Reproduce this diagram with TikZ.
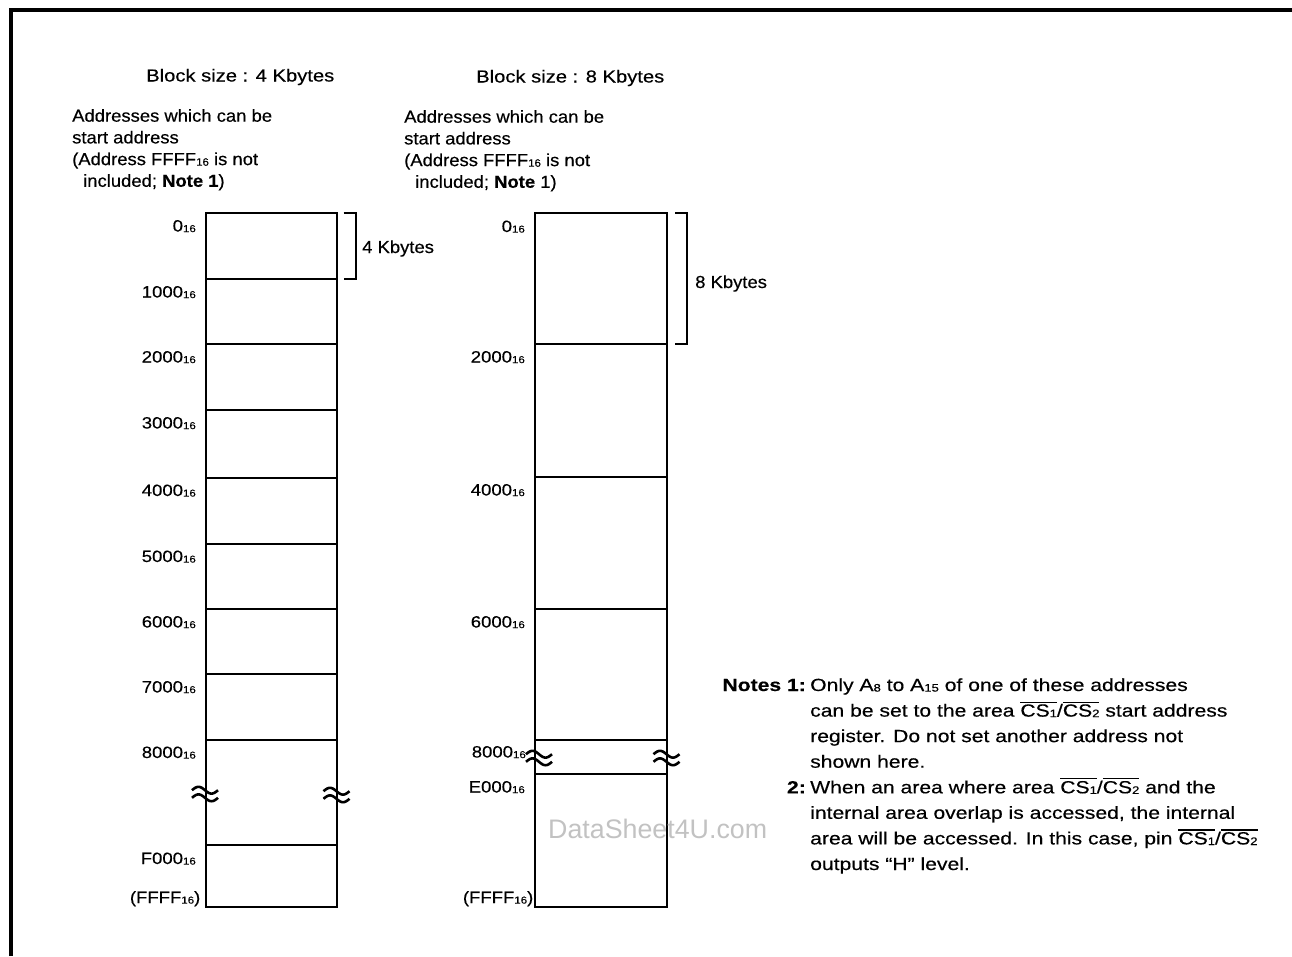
\documentclass[tikz,border=0pt]{standalone}
\usepackage{fontspec}
\usepackage{graphicx}
\setmainfont{Liberation Sans}
\newfontfamily\fbody{Liberation Sans}[FakeStretch=1.06,FakeBold=0.4]
\newfontfamily\ftitle{Liberation Sans}[FakeStretch=1.16,FakeBold=0.4]
\newfontfamily\fnote{Liberation Sans}[FakeStretch=1.2,FakeBold=0.4]
\newfontfamily\flab{Liberation Sans}[FakeStretch=1.13,FakeBold=0.4]
\newcommand\sbs[1]{\raisebox{-0.6pt}{\scalebox{0.62}{#1}}}
\newcommand\ovl[1]{\vbox{\hrule height 1.2pt\kern1.6pt\hbox{#1}}}
\tikzset{
  body/.style={font=\fbody\fontsize{17.4}{20}\selectfont, inner sep=0pt, anchor=base west},
  ttl/.style={font=\ftitle\fontsize{17.4}{20}\selectfont, inner sep=0pt, anchor=base west},
  note/.style={font=\fnote\fontsize{17.6}{20}\selectfont, inner sep=0pt, anchor=base west},
  notelbl/.style={font=\fnote\bfseries\fontsize{17.6}{20}\selectfont, inner sep=0pt, anchor=base east},
  addr/.style={font=\flab\fontsize{16.4}{18}\selectfont, inner sep=0pt, anchor=base east},
  memframe/.style={line width=2.4pt},
  memline/.style={line width=2pt},
  brkline/.style={line width=2.6pt},
  bracketline/.style={line width=2pt},
  wm/.style={font=\fontsize{26.8}{30}\selectfont, text=black!24, inner sep=0pt, anchor=base west},
  brk/.pic={
    \draw[brkline] plot[smooth, domain=-13:13, samples=25] (\x, {-3.8-3.4*sin((\x+13)*360/26)});
    \draw[brkline] plot[smooth, domain=-13:13, samples=25] (\x, {3.8-3.4*sin((\x+13)*360/26)});
  }
}
\begin{document}
\begin{tikzpicture}[x=1pt, y=-1pt]
\useasboundingbox (0,0) rectangle (1292,956);
% outer frame (left and top edges visible)
\draw[line width=3.5pt] (11,956) -- (11,10) -- (1292,10);

% ---------- titles ----------
\node[ttl] (t1) at (146,81.5) {Block size : 4 Kbytes};
\node[ttl] (t2) at (476,82.5) {Block size : 8 Kbytes};

% ---------- left description ----------
\node[body] (la) at (72,121.7) {Addresses which can be};
\node[body] (lb) at (72,143.4) {start address};
\node[body] (lc) at (72,165.1) {(Address FFFF\sbs{16} is not};
\node[body] (ld) at (83,186.8) {included; \textbf{Note 1})};

% ---------- right description ----------
\node[body] (ra) at (404,122.7) {Addresses which can be};
\node[body] (rb) at (404,144.4) {start address};
\node[body] (rc) at (404,166.1) {(Address FFFF\sbs{16} is not};
\node[body] (rd) at (415,187.8) {included; \textbf{Note} 1)};

% ---------- left memory map (4 Kbytes) ----------
\draw[memframe] (206,213) rectangle (337,907);
\foreach \yy in {279,344,410,478,544,609,674,740,845}
  \draw[memline] (206,\yy) -- (337,\yy);
\pic at (205,794) {brk};
\pic at (336.5,795) {brk};
\draw[bracketline] (343.5,213) -- (355.5,213) -- (355.5,279) -- (343.5,279);
\node[body] (k4) at (362,253) {4 Kbytes};

\node[addr] (a0)  at (196,231.5) {0\sbs{16}};
\node[addr] (a1)  at (196,297.5) {1000\sbs{16}};
\node[addr] (a2)  at (196,362.5) {2000\sbs{16}};
\node[addr] (a3)  at (196,428.5) {3000\sbs{16}};
\node[addr] (a4)  at (196,496) {4000\sbs{16}};
\node[addr] (a5)  at (196,562) {5000\sbs{16}};
\node[addr] (a6)  at (196,627.5) {6000\sbs{16}};
\node[addr] (a7)  at (196,692.5) {7000\sbs{16}};
\node[addr] (a8)  at (196,758) {8000\sbs{16}};
\node[addr] (af)  at (196,864) {F000\sbs{16}};
\node[addr] (aff) at (200.5,903) {(FFFF\sbs{16})};

% ---------- right memory map (8 Kbytes) ----------
\draw[memframe] (535,213) rectangle (667,907);
\foreach \yy in {344,477,609,740,774}
  \draw[memline] (535,\yy) -- (667,\yy);
\pic at (539,758) {brk};
\pic at (666.5,758) {brk};
\draw[bracketline] (675,213) -- (687,213) -- (687,344) -- (675,344);
\node[body] (k8) at (695,288) {8 Kbytes};

\node[addr] (b0)  at (525,232) {0\sbs{16}};
\node[addr] (b2)  at (525,362.5) {2000\sbs{16}};
\node[addr] (b4)  at (525,495.5) {4000\sbs{16}};
\node[addr] (b6)  at (525,627.5) {6000\sbs{16}};
\node[addr] (b8)  at (526,757.5) {8000\sbs{16}};
\node[addr] (be)  at (525,792.5) {E000\sbs{16}};
\node[addr] (bff) at (533.5,903) {(FFFF\sbs{16})};

% ---------- watermark ----------
\node[wm] (wmk) at (548,838) {DataSheet4U.com};

% ---------- notes ----------
\node[notelbl] (n1l) at (806,691) {Notes 1:};
\node[note] (n1) at (810,691)    {Only A\sbs{8} to A\sbs{15} of one of these addresses};
\node[note] (n2) at (810,716.6)  {can be set to the area \ovl{CS\sbs{1}}/\ovl{CS\sbs{2}} start address};
\node[note] (n3) at (810,742.1)  {register. Do not set another address not};
\node[note] (n4) at (810,767.7)  {shown here.};
\node[notelbl] (n2l) at (806,793.3) {2:};
\node[note] (n5) at (810,793.3)  {When an area where area \ovl{CS\sbs{1}}/\ovl{CS\sbs{2}} and the};
\node[note] (n6) at (810,818.8)  {internal area overlap is accessed, the internal};
\node[note] (n7) at (810,844.4)  {area will be accessed. In this case, pin \ovl{CS\sbs{1}}/\ovl{CS\sbs{2}}};
\node[note] (n8) at (810,870)    {outputs “H” level.};
\end{tikzpicture}
\end{document}
